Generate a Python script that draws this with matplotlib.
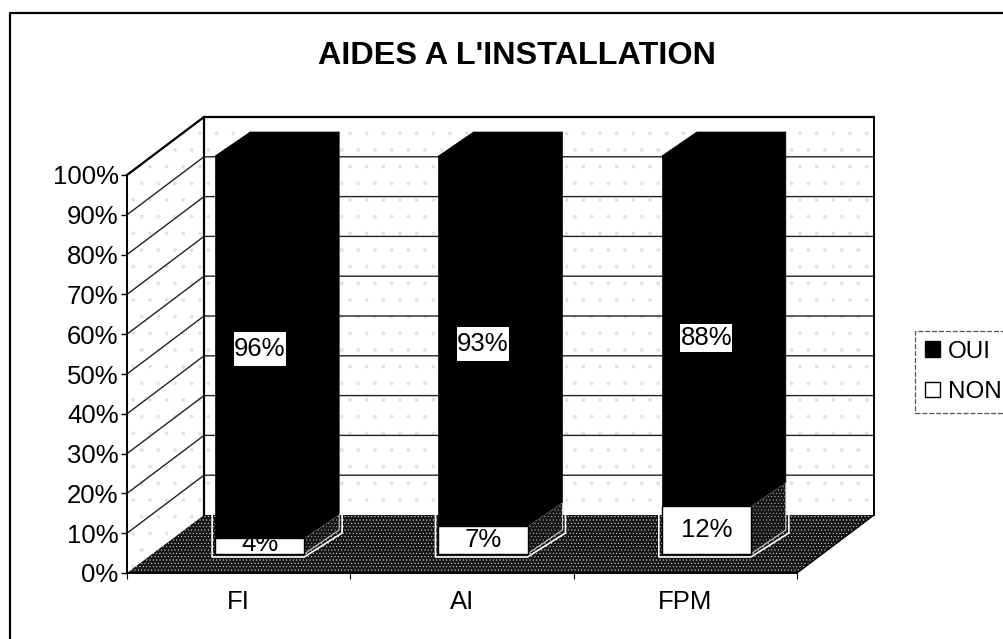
import matplotlib
matplotlib.use("Agg")
import matplotlib.pyplot as plt
from matplotlib.patches import Polygon, Patch, Rectangle
from matplotlib.lines import Line2D

plt.rcParams['font.family'] = ['Liberation Sans', 'DejaVu Sans']
plt.rcParams['hatch.linewidth'] = 0.3

TITLE = "AIDES A L'INSTALLATION"
categories = ["FI", "AI", "FPM"]
oui = [96, 93, 88]
non = [4, 7, 12]
y_ticks = [0, 10, 20, 30, 40, 50, 60, 70, 80, 90, 100]
series_names = ["OUI", "NON"]

W, H = 1004, 639
fig = plt.figure(figsize=(W / 100, H / 100), dpi=100, facecolor='white')
L, R, T, B = 127, 797, 175, 573
ax = fig.add_axes([L / W, 1 - B / H, (R - L) / W, (B - T) / H])
ax.set_xlim(0, 3)
ax.set_ylim(0, 100)
ax.patch.set_visible(False)

px_x = 3 / (R - L)
px_y = 100 / (B - T)
# oblique projection offsets
wall_dx, wall_dy = 77 * px_x, 58 * px_y
bar_dx, bar_dy = 35 * px_x, 24 * px_y
bar_w = 89 * px_x
bar_shift = 21 * px_x
bar_base = 19 * px_y
FS = 18.5

# walls
back = Polygon([(wall_dx, wall_dy), (3 + wall_dx, wall_dy), (3 + wall_dx, 100 + wall_dy), (wall_dx, 100 + wall_dy)],
               closed=True, facecolor='white', edgecolor='#e2e2e2', hatch='.', lw=0, zorder=1, clip_on=False)
side = Polygon([(0, 0), (wall_dx, wall_dy), (wall_dx, 100 + wall_dy), (0, 100)],
               closed=True, facecolor='white', edgecolor='#e2e2e2', hatch='.', lw=0, zorder=1, clip_on=False)
floor = Polygon([(0, 0), (3, 0), (3 + wall_dx, wall_dy), (wall_dx, wall_dy)],
                closed=True, facecolor='#161616', edgecolor='white', hatch='.....', lw=0, zorder=1.5, clip_on=False)
for p in (back, side, floor):
    ax.add_patch(p)

# gridlines
for v in y_ticks[1:]:
    ax.plot([0, wall_dx, 3 + wall_dx], [v, v + wall_dy, v + wall_dy], color='#222222', lw=1.0,
            zorder=2, clip_on=False, solid_joinstyle='miter')
# wall outline
ax.plot([wall_dx, wall_dx], [wall_dy, 100 + wall_dy], color='black', lw=1.6, zorder=2.1, clip_on=False)
ax.plot([3 + wall_dx, 3 + wall_dx], [wall_dy, 100 + wall_dy], color='black', lw=1.4, zorder=2.1, clip_on=False)
ax.plot([0, wall_dx, 3 + wall_dx], [100, 100 + wall_dy, 100 + wall_dy], color='black', lw=1.6, zorder=2.1, clip_on=False)
ax.plot([3, 3 + wall_dx], [0, wall_dy], color='black', lw=1.0, zorder=2.1, clip_on=False)

centers = [i + 0.5 + bar_shift for i in range(len(categories))]
for xc, n, o in zip(centers, non, oui):
    x0, x1 = xc - bar_w / 2, xc + bar_w / 2
    top = bar_base + n + o
    split = bar_base + n
    # white halo on the floor
    ax.plot([x0 - 3 * px_x, x0 - 3 * px_x, x1, x1 + bar_dx + 3 * px_x, x1 + bar_dx + 3 * px_x],
            [wall_dy, bar_base - 3 * px_y, bar_base - 3 * px_y, bar_base + bar_dy - 3 * px_y, wall_dy],
            color='white', lw=1.2, zorder=2.6, clip_on=False)
    # right side: NON (textured), OUI (black)
    ax.add_patch(Polygon([(x1, bar_base), (x1 + bar_dx, bar_base + bar_dy), (x1 + bar_dx, split + bar_dy), (x1, split)],
                         closed=True, facecolor='#161616', edgecolor='#c8c8c8', hatch='.....', lw=0.8, zorder=3, clip_on=False))
    ax.add_patch(Polygon([(x1, split), (x1 + bar_dx, split + bar_dy), (x1 + bar_dx, top + bar_dy), (x1, top)],
                         closed=True, facecolor='black', edgecolor='black', lw=0.5, zorder=3, clip_on=False))
    ax.add_patch(Polygon([(x0, top), (x1, top), (x1 + bar_dx, top + bar_dy), (x0 + bar_dx, top + bar_dy)],
                         closed=True, facecolor='black', edgecolor='black', lw=0.5, zorder=3, clip_on=False))

non_bars = ax.bar(centers, non, width=bar_w, bottom=bar_base, color='white', edgecolor='black', linewidth=1.0,
                  zorder=4, clip_on=False)
bottoms = [bar_base + n for n in non]
oui_bars = ax.bar(centers, oui, width=bar_w, bottom=bottoms, color='black', edgecolor='black', linewidth=0.5,
                  zorder=4, clip_on=False)

# data labels
label_drop_px = [2, 3, 7]
box_h_px = [34, 34, 28]
box_w = 52 * px_x
for xc, n, o, b, nb, drop, bh in zip(centers, non, oui, bottoms, non_bars, label_drop_px, box_h_px):
    yc = b + o / 2 - drop * px_y
    ax.add_patch(Rectangle((xc - box_w / 2, yc - bh * px_y / 2), box_w, bh * px_y, facecolor='white',
                           edgecolor='none', zorder=5, clip_on=False))
    ax.text(xc, yc, f"{o}%", ha='center', va='center', fontsize=FS, color='black', zorder=6, clip_on=False)
    t = ax.text(xc, bar_base + n / 2 + 0.5 * (n < 5), f"{n}%", ha='center', va='center', fontsize=FS,
                color='black', zorder=6)
    t.set_clip_path(nb)

# axes
for s in ('top', 'right'):
    ax.spines[s].set_visible(False)
for s in ('left', 'bottom'):
    ax.spines[s].set_linewidth(1.4)
    ax.spines[s].set_zorder(5)
ax.set_yticks(y_ticks)
ax.set_yticklabels([f"{v}%" for v in y_ticks], fontsize=FS)
ax.tick_params(axis='y', length=4, width=1, pad=2)
ax.set_xticks([i + 0.5 for i in range(len(categories))])
ax.set_xticklabels(categories, fontsize=FS)
ax.set_xticks(range(len(categories) + 1), minor=True)
ax.tick_params(axis='x', which='major', length=0, pad=12)
ax.tick_params(axis='x', which='minor', length=4, width=0.8)

fig.text(517 / W, 1 - 56 / H, TITLE, ha='center', va='center', fontsize=23.3, fontweight='bold')

# outer frame: left and top only
fig.add_artist(Line2D([9.5 / W, 9.5 / W, 1], [0, 1 - 12.5 / H, 1 - 12.5 / H], color='black', lw=1.6,
                      transform=fig.transFigure))

handles = [Patch(facecolor='black', edgecolor='black', label=series_names[0]),
           Patch(facecolor='white', edgecolor='black', label=series_names[1])]
leg = fig.legend(handles=handles, loc='lower left', bbox_to_anchor=(915 / W, 1 - 413 / H),
                 bbox_transform=fig.transFigure, borderaxespad=0, fontsize=17.5, frameon=True, fancybox=False,
                 handlelength=0.62, handleheight=0.62, handletextpad=0.33, labelspacing=0.75, borderpad=0.41,
                 edgecolor='#555555', framealpha=1)
leg.get_frame().set_linestyle((0, (4, 1.5)))
leg.get_frame().set_linewidth(0.9)

fig.savefig('out.png', dpi=100, facecolor='white')
